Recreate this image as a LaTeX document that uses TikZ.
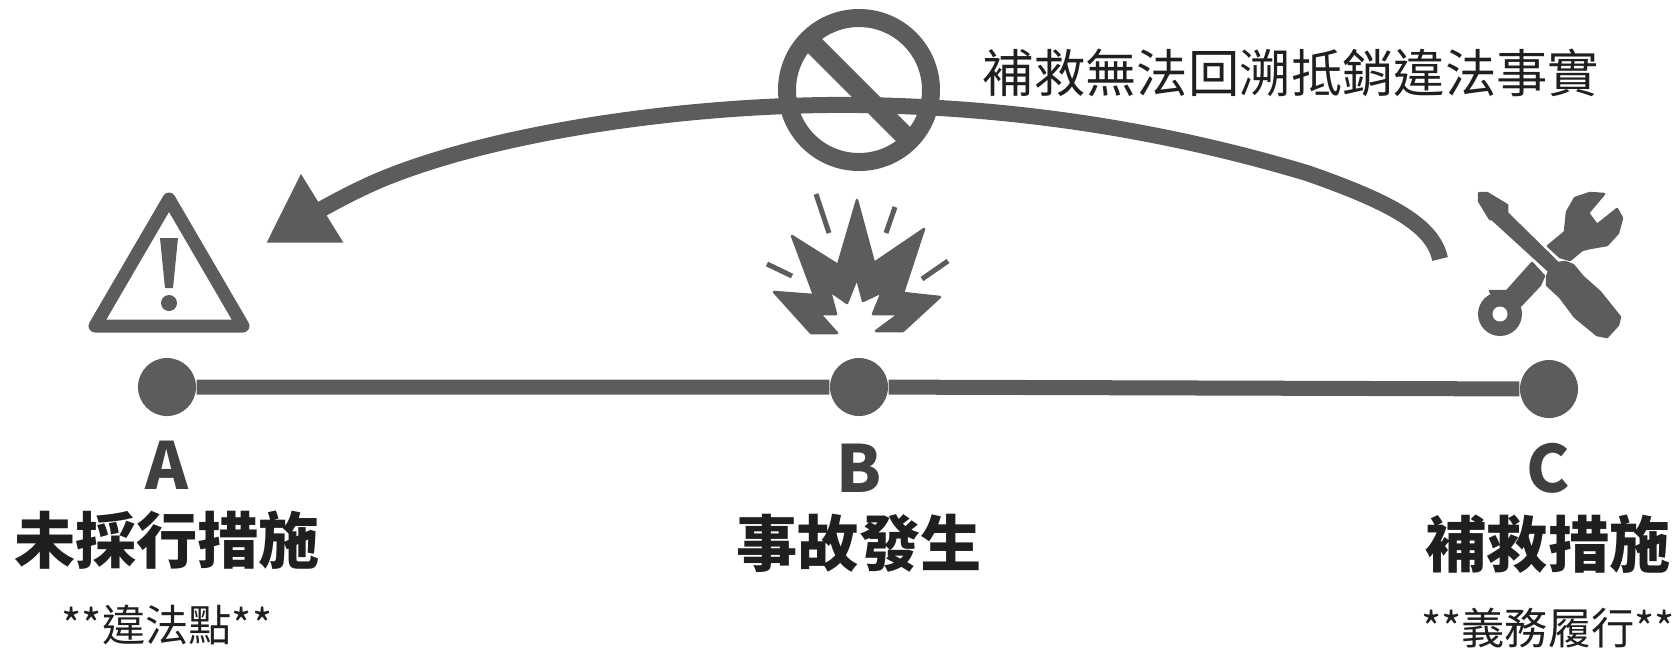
\documentclass[tikz,border=0pt]{standalone}
\usepackage{fontspec}
\setmainfont{Noto Sans CJK TC}
\newfontfamily\boldcjk{Noto Sans CJK TC Bold}
\usetikzlibrary{arrows.meta,positioning}
\definecolor{inkgray}{gray}{0.36}
\definecolor{textgray}{gray}{0.12}
\newcommand{\letterfont}{\fontsize{18.5pt}{20pt}\selectfont\bfseries}
\newcommand{\titlefont}{\fontsize{17.4pt}{20pt}\selectfont\bfseries}
\newcommand{\notefont}{\fontsize{12.3pt}{14pt}\selectfont}

\begin{document}
\begin{tikzpicture}[x=0.01cm,y=-0.01cm,
  dot/.style={circle,fill=inkgray,inner sep=0pt,minimum size=0.58cm},
  letter/.style={inner sep=0pt,text=inkgray!70!black,font=\letterfont},
  title/.style={inner sep=0pt,text=textgray,font=\titlefont},
  note/.style={inner sep=0pt,text=textgray,font=\notefont},
  timeline/.style={draw=inkgray,line width=0.15cm},
  backarc/.style={draw=inkgray,line width=0.16cm,-{Triangle[length=0.66cm,width=0.76cm]}},
  icon/.style={fill=inkgray,draw=inkgray,line width=0.025cm,line join=round},
  spark/.style={draw=inkgray,line width=0.05cm}]

  \useasboundingbox (0,0) rectangle (1675,650);

  \node[dot] (dotA) at (167,387) {};
  \node[dot] (dotB) at (859,387) {};
  \node[dot] (dotC) at (1549,389) {};

  \node[letter] (letterA) at (167,465) {A};
  \node[letter] (letterB) at (859,468) {B};
  \node[letter] (letterC) at (1548,468) {C};

  \node[title] (titleA) [below=0.2cm of letterA] {未採行措施};
  \node[title] (titleB) [below=0.2cm of letterB] {事故發生};
  \node[title] (titleC) [below=0.2cm of letterC] {補救措施};

  \node[note] (noteA) [below=0.34cm of titleA] {**違法點**};
  \node[note] (noteC) [below=0.34cm of titleC] {**義務履行**};

  \node[inner sep=0pt,text=textgray,font=\fontsize{14.6pt}{16pt}\selectfont] (claim) at (1291,73) {補救無法回溯抵銷違法事實};

  \draw[timeline] (dotA) -- (dotB) -- (dotC);

  \coordinate (arcstart) at (1440,259);
  \coordinate (arcbend) at (1307,173);
  \coordinate (arctop) at (860,105);
  \coordinate (arcleft) at (380,180);
  \coordinate (arctip) at (266,243);
  \draw[backarc] (arcstart) .. controls (1433,225) and (1390,202) .. (arcbend)
    .. controls (1150,126) and (1000,107) .. (arctop)
    .. controls (700,103) and (500,130) .. (arcleft)
    .. controls (340,197) and (300,222) .. (arctip);

  % no sign
  \draw[inkgray,line width=0.18cm] (859,90) circle (72);
  \draw[inkgray,line width=0.2cm] (810,41) -- (908,139);

  % warning sign
  \draw[inkgray,line width=0.13cm,line join=round] (169,199) -- (243,326) -- (95,326) -- cycle;
  \fill[inkgray] (160,238) -- (178,238) -- (173,288) -- (165,288) -- cycle;
  \fill[inkgray] (169,303) circle (8);

  % explosion
  \draw[icon] (857,200) -- (874,263) -- (924,229) -- (903,293) -- (940,297) -- (903,331)
    -- (876,331) -- (899,314) -- (873,314) -- (882,292) -- (863,301) -- (857,278)
    -- (847,303) -- (830,291) -- (836,314) -- (820,314) -- (837,333) -- (811,333)
    -- (774,292) -- (814,295) -- (792,236) -- (838,265) -- cycle;
  \draw[spark] (816,194) -- (829,233);
  \draw[spark] (895,207) -- (886,233);
  \draw[spark] (767,264) -- (792,276);
  \draw[spark] (948,261) -- (922,279);

  % screwdriver
  \draw[icon] (1479,193) -- (1487,193) -- (1507,205) -- (1507,213) -- (1558,263) -- (1565,262)
    -- (1573,265) -- (1583,277) -- (1600,292) -- (1620,317) -- (1618,325) -- (1607,337)
    -- (1597,335) -- (1575,317) -- (1560,297) -- (1547,285) -- (1547,277) -- (1549,271)
    -- (1492,219) -- (1490,219) -- (1479,201) -- cycle;

  % wrench
  \draw[icon] (1548,246) -- (1565,232) -- (1567,212) -- (1575,198) -- (1590,193) -- (1604,194)
    -- (1588,213) -- (1597,225) -- (1617,209) -- (1622,218) -- (1618,233) -- (1607,245)
    -- (1590,248) -- (1582,250) -- (1570,260) -- (1560,257) -- cycle;
  \draw[icon] (1532,263) -- (1544,276) -- (1540,285) -- (1523,303) -- (1507,320) -- (1490,291)
    -- (1507,291) -- cycle;
  \fill[inkgray] (1500,314) circle (22);
  \fill[white] (1500,314) circle (7.5);
\end{tikzpicture}
\end{document}
